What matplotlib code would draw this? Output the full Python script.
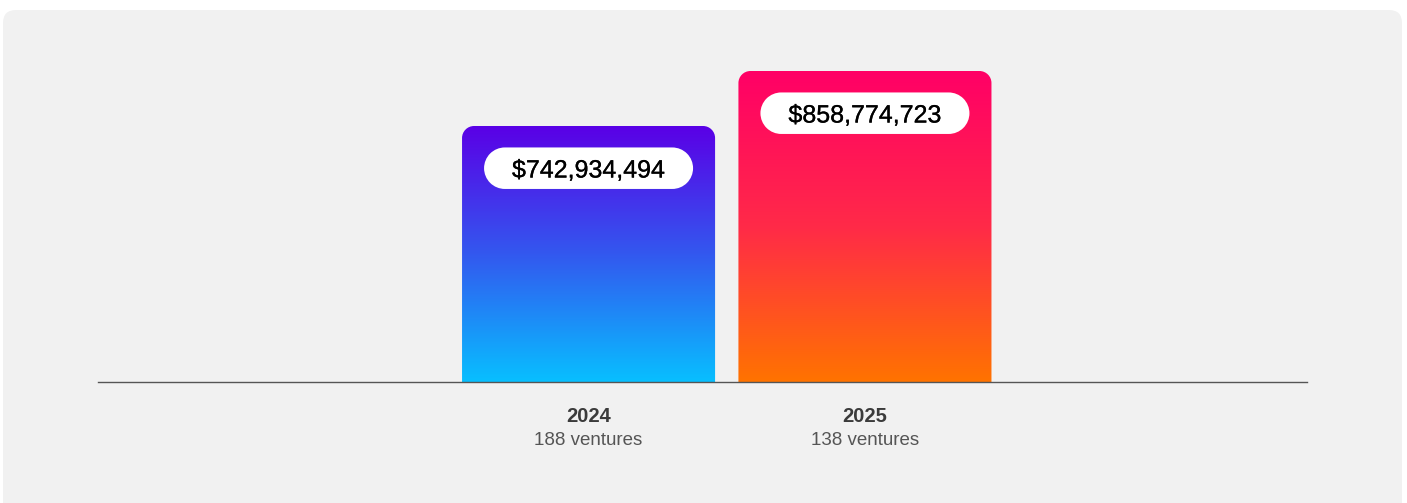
import matplotlib
matplotlib.use("Agg")
import matplotlib.pyplot as plt
import numpy as np
from matplotlib.patches import FancyBboxPatch, PathPatch
from matplotlib.path import Path
from matplotlib.transforms import IdentityTransform
from matplotlib.colors import to_rgb
import matplotlib.patheffects as pe

# ---- data ----
years = ["2024", "2025"]
values = [742934494, 858774723]
value_labels = ["$742,934,494", "$858,774,723"]
ventures = ["188 ventures", "138 ventures"]
top_colors = ["#5a00e6", "#ff0066"]
mid_colors = ["#3358ef", "#ff2a48"]
bottom_colors = ["#08bfff", "#ff7300"]

plt.rcParams['font.family'] = ['Liberation Sans', 'DejaVu Sans']

W, H = 1407, 503
fig = plt.figure(figsize=(W / 100, H / 100), dpi=100)
fig.patch.set_facecolor("white")

# rounded background panel (display pixels, origin bottom-left)
panel = FancyBboxPatch((3, -30), 1399, H - 10 + 30,
                       boxstyle="round,pad=0,rounding_size=13",
                       transform=IdentityTransform(), facecolor="#f1f1f1",
                       edgecolor="none", zorder=-10)
fig.patches.append(panel)

ax_left, ax_right = 98, 1307
ax_bottom_px, ax_top_px = 382, 20
ax = fig.add_axes([ax_left / W, (H - ax_bottom_px) / H,
                   (ax_right - ax_left) / W, (ax_bottom_px - ax_top_px) / H])
ax.set_zorder(1)
ax.set_facecolor("none")
for s in ax.spines.values():
    s.set_visible(False)
ax.set_xticks([])
ax.set_yticks([])

y0, y1 = 203.75e6, 966.2e6
ax.set_ylim(y0, y1)
ax.set_xlim(-1.7749, 2.5994)

x = np.arange(len(years))
bars = ax.bar(x, values, width=0.9155, bottom=0, color="none", edgecolor="none")


def stadium(cx, cy, w, h):
    rr = h / 2
    left = Path.arc(90, 270)
    right = Path.arc(-90, 90)
    lv = left.vertices * rr + np.array([cx - w / 2 + rr, cy])
    rv = right.vertices * rr + np.array([cx + w / 2 - rr, cy])
    verts = np.vstack([rv, lv, rv[:1]])
    codes = np.concatenate([right.codes, left.codes, [Path.CLOSEPOLY]]).astype(np.uint8)
    codes[len(right.codes)] = Path.LINETO
    return Path(verts, codes)


fig.canvas.draw()
r = 12
for i, b in enumerate(bars):
    bx0, bx1 = b.get_x(), b.get_x() + b.get_width()
    top = values[i]
    # gradient image (top -> mid -> bottom)
    stops = np.array([0.0, 0.5, 1.0])
    cols = np.array([to_rgb(top_colors[i]), to_rgb(mid_colors[i]),
                     to_rgb(bottom_colors[i])])
    t = np.linspace(0, 1, 256)
    grad = np.stack([np.interp(t, stops, cols[:, c]) for c in range(3)], axis=1)
    grad = grad[:, None, :]
    im = ax.imshow(grad, extent=(bx0, bx1, y0, top), aspect="auto",
                   interpolation="bicubic", origin="upper", zorder=2)
    # rounded-top clip path in display pixels
    (px0, py0) = ax.transData.transform((bx0, y0))
    (px1, py1) = ax.transData.transform((bx1, top))
    k = 0.5523 * r
    verts = [(px0, py0), (px1, py0), (px1, py1 - r),
             (px1, py1 - r + k), (px1 - r + k, py1), (px1 - r, py1),
             (px0 + r, py1),
             (px0 + r - k, py1), (px0, py1 - r + k), (px0, py1 - r),
             (px0, py0), (px0, py0)]
    codes = [Path.MOVETO, Path.LINETO, Path.LINETO,
             Path.CURVE4, Path.CURVE4, Path.CURVE4,
             Path.LINETO,
             Path.CURVE4, Path.CURVE4, Path.CURVE4,
             Path.LINETO, Path.CLOSEPOLY]
    clip = PathPatch(Path(verts, codes), transform=IdentityTransform(),
                     facecolor="none", edgecolor="none")
    ax.add_patch(clip)
    im.set_clip_path(clip)

    # white pill label
    cx = (px0 + px1) / 2
    pill = PathPatch(stadium(cx, py1 - 42.2, 209, 41.5),
                     transform=IdentityTransform(), facecolor="white",
                     edgecolor="none", zorder=3)
    ax.add_patch(pill)
    ax.annotate(value_labels[i], xy=(x[i], top), xytext=(0, -51.5),
                textcoords="offset pixels", ha="center", va="baseline",
                fontsize=18, color="#000000", zorder=4,
                path_effects=[pe.withStroke(linewidth=0.2, foreground="#000000")])
    # category labels
    ax.annotate(years[i], xy=(x[i], y0), xytext=(0, -39.7),
                textcoords="offset pixels", ha="center", va="baseline",
                fontsize=14.5, fontweight="bold", color="#3b3b3b",
                annotation_clip=False)
    ax.annotate(ventures[i], xy=(x[i], y0), xytext=(0, -63),
                textcoords="offset pixels", ha="center", va="baseline",
                fontsize=13.5, color="#555555", annotation_clip=False)

ax.axhline(y0, color="#555555", lw=1.0, zorder=5, clip_on=False)

fig.savefig("out.png", dpi=100, facecolor=fig.get_facecolor())
